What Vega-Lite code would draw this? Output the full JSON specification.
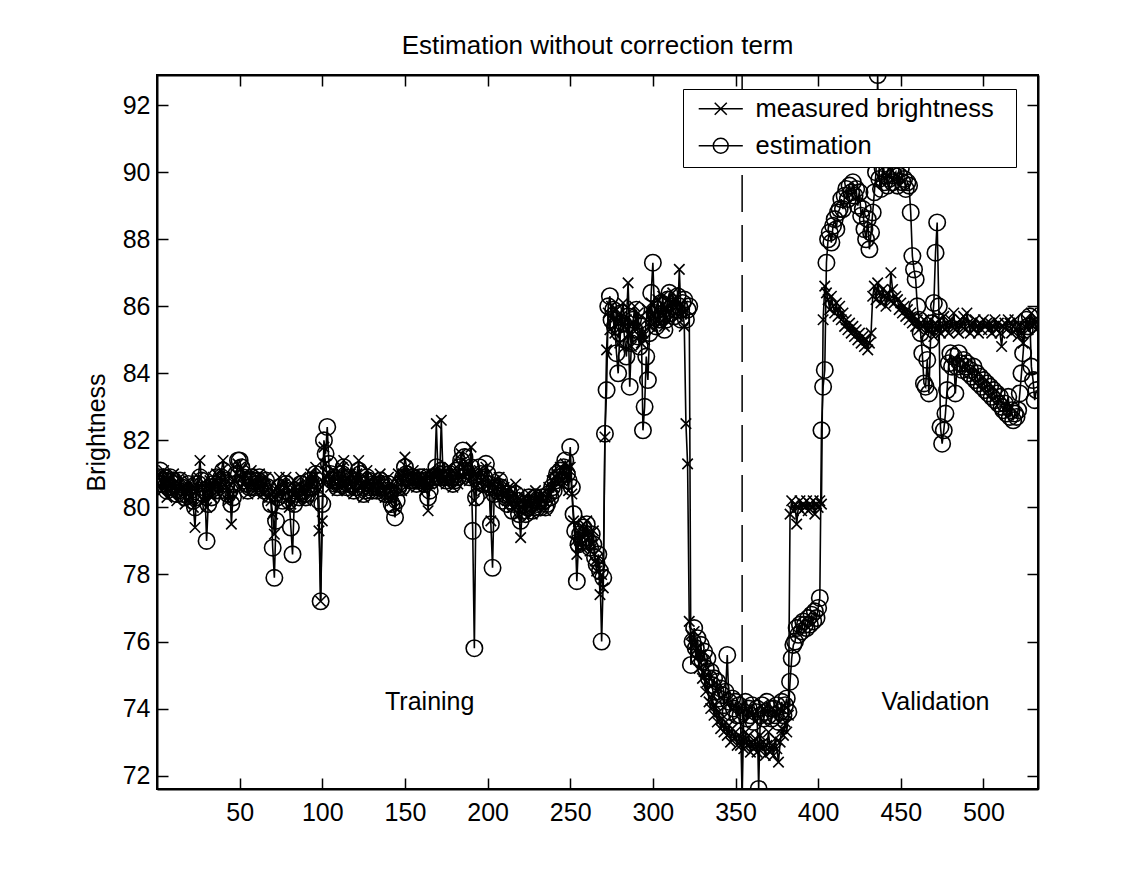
{
"$schema": "https://vega.github.io/schema/vega-lite/v6.json",
"width": 881, "height": 714,
"autosize": "none",
"padding": {"left": 157, "top": 75, "right": 106, "bottom": 92},
"background": "white",
"config": {"font": "Liberation Sans", "view": {"stroke": "black", "strokeWidth": 2}},
"title": {"text": "Estimation without correction term", "fontSize": 26, "fontWeight": "normal", "color": "black", "offset": 14, "anchor": "middle"},
"data": {"values": [
{"i":1,"m":81.0,"e":80.9},{"i":2,"m":80.8,"e":81.1},{"i":3,"m":80.5,"e":80.7},{"i":4,"m":81.1,"e":80.9},{"i":5,"m":80.6,"e":80.8},{"i":6,"m":80.3,"e":80.5},{"i":7,"m":80.9,"e":80.6},{"i":8,"m":80.7,"e":80.9},{"i":9,"m":80.4,"e":80.6},{"i":10,"m":81.0,"e":80.8},
{"i":11,"m":80.6,"e":80.7},{"i":12,"m":80.2,"e":80.4},{"i":13,"m":80.7,"e":80.5},{"i":14,"m":80.9,"e":80.8},{"i":15,"m":80.4,"e":80.6},{"i":16,"m":80.6,"e":80.4},{"i":17,"m":80.1,"e":80.3},{"i":18,"m":80.5,"e":80.5},{"i":19,"m":80.8,"e":80.7},{"i":20,"m":80.3,"e":80.5},
{"i":21,"m":80.6,"e":80.4},{"i":22,"m":80.0,"e":80.2},{"i":23,"m":79.4,"e":80.0},{"i":24,"m":80.5,"e":80.3},{"i":25,"m":80.9,"e":80.7},{"i":26,"m":81.4,"e":80.9},{"i":27,"m":80.7,"e":80.8},{"i":28,"m":80.2,"e":80.4},{"i":29,"m":80.6,"e":80.5},{"i":30,"m":80.0,"e":79.0},
{"i":31,"m":80.5,"e":80.1},{"i":32,"m":80.8,"e":80.6},{"i":33,"m":80.3,"e":80.3},{"i":34,"m":80.9,"e":80.7},{"i":35,"m":80.6,"e":80.5},{"i":36,"m":81.0,"e":80.9},{"i":37,"m":80.4,"e":80.6},{"i":38,"m":80.7,"e":80.5},{"i":39,"m":81.1,"e":80.9},{"i":40,"m":81.4,"e":81.1},
{"i":41,"m":80.9,"e":80.8},{"i":42,"m":80.6,"e":80.7},{"i":43,"m":80.2,"e":80.4},{"i":44,"m":80.7,"e":80.5},{"i":45,"m":79.5,"e":80.1},{"i":46,"m":80.4,"e":80.3},{"i":47,"m":80.8,"e":80.7},{"i":48,"m":81.0,"e":81.0},{"i":49,"m":81.3,"e":81.4},{"i":50,"m":81.2,"e":81.4},
{"i":51,"m":80.9,"e":81.2},{"i":52,"m":80.7,"e":80.9},{"i":53,"m":81.0,"e":80.8},{"i":54,"m":80.6,"e":80.7},{"i":55,"m":80.4,"e":80.5},{"i":56,"m":80.8,"e":80.6},{"i":57,"m":81.1,"e":80.9},{"i":58,"m":80.7,"e":80.8},{"i":59,"m":80.5,"e":80.6},{"i":60,"m":80.9,"e":80.7},
{"i":61,"m":80.6,"e":80.8},{"i":62,"m":81.0,"e":80.9},{"i":63,"m":80.8,"e":80.7},{"i":64,"m":80.4,"e":80.6},{"i":65,"m":80.7,"e":80.5},{"i":66,"m":80.9,"e":80.8},{"i":67,"m":80.5,"e":80.6},{"i":68,"m":80.3,"e":80.4},{"i":69,"m":80.2,"e":80.1},{"i":70,"m":79.8,"e":78.8},
{"i":71,"m":79.2,"e":77.9},{"i":72,"m":80.4,"e":79.6},{"i":73,"m":80.6,"e":80.3},{"i":74,"m":80.9,"e":80.6},{"i":75,"m":80.5,"e":80.4},{"i":76,"m":80.3,"e":80.2},{"i":77,"m":80.7,"e":80.5},{"i":78,"m":80.9,"e":80.7},{"i":79,"m":80.6,"e":80.5},{"i":80,"m":80.0,"e":80.2},
{"i":81,"m":80.1,"e":79.4},{"i":82,"m":80.4,"e":78.6},{"i":83,"m":80.8,"e":80.1},{"i":84,"m":80.6,"e":80.5},{"i":85,"m":80.3,"e":80.4},{"i":86,"m":80.5,"e":80.3},{"i":87,"m":80.9,"e":80.7},{"i":88,"m":80.4,"e":80.5},{"i":89,"m":80.6,"e":80.4},{"i":90,"m":80.2,"e":80.3},
{"i":91,"m":80.5,"e":80.4},{"i":92,"m":80.8,"e":80.6},{"i":93,"m":81.0,"e":80.8},{"i":94,"m":80.7,"e":80.6},{"i":95,"m":80.9,"e":80.7},{"i":96,"m":81.2,"e":81.0},{"i":97,"m":80.6,"e":80.8},{"i":98,"m":79.3,"e":80.2},{"i":99,"m":77.2,"e":77.2},{"i":100,"m":79.6,"e":80.1},
{"i":101,"m":81.8,"e":82.0},{"i":102,"m":81.3,"e":81.6},{"i":103,"m":80.9,"e":82.4},{"i":104,"m":81.0,"e":81.3},{"i":105,"m":80.6,"e":81.0},{"i":106,"m":80.8,"e":80.8},{"i":107,"m":81.1,"e":80.9},{"i":108,"m":80.7,"e":80.7},{"i":109,"m":80.5,"e":80.6},{"i":110,"m":80.9,"e":80.8},
{"i":111,"m":80.6,"e":80.7},{"i":112,"m":81.2,"e":81.0},{"i":113,"m":81.4,"e":81.2},{"i":114,"m":80.8,"e":80.9},{"i":115,"m":80.5,"e":80.6},{"i":116,"m":80.7,"e":80.7},{"i":117,"m":81.0,"e":80.8},{"i":118,"m":80.6,"e":80.7},{"i":119,"m":80.4,"e":80.5},{"i":120,"m":80.8,"e":80.6},
{"i":121,"m":81.0,"e":80.8},{"i":122,"m":81.4,"e":81.1},{"i":123,"m":80.9,"e":81.0},{"i":124,"m":80.6,"e":80.7},{"i":125,"m":80.3,"e":80.4},{"i":126,"m":80.7,"e":80.5},{"i":127,"m":81.1,"e":80.9},{"i":128,"m":80.8,"e":80.8},{"i":129,"m":80.5,"e":80.6},{"i":130,"m":80.6,"e":80.5},
{"i":131,"m":80.9,"e":80.7},{"i":132,"m":80.6,"e":80.6},{"i":133,"m":80.4,"e":80.5},{"i":134,"m":80.8,"e":80.6},{"i":135,"m":81.0,"e":80.8},{"i":136,"m":80.7,"e":80.7},{"i":137,"m":80.5,"e":80.6},{"i":138,"m":80.3,"e":80.4},{"i":139,"m":80.6,"e":80.5},{"i":140,"m":80.9,"e":80.7},
{"i":141,"m":80.5,"e":80.4},{"i":142,"m":80.2,"e":80.1},{"i":143,"m":80.4,"e":80.0},{"i":144,"m":80.0,"e":79.7},{"i":145,"m":80.6,"e":80.2},{"i":146,"m":81.0,"e":80.6},{"i":147,"m":80.8,"e":80.7},{"i":148,"m":80.5,"e":80.6},{"i":149,"m":81.0,"e":80.9},{"i":150,"m":81.5,"e":81.2},
{"i":151,"m":81.2,"e":81.0},{"i":152,"m":80.9,"e":80.9},{"i":153,"m":80.7,"e":80.8},{"i":154,"m":80.9,"e":80.8},{"i":155,"m":81.1,"e":80.9},{"i":156,"m":80.8,"e":80.8},{"i":157,"m":80.6,"e":80.7},{"i":158,"m":80.9,"e":80.8},{"i":159,"m":81.0,"e":80.9},{"i":160,"m":80.7,"e":80.8},
{"i":161,"m":80.8,"e":80.9},{"i":162,"m":80.5,"e":80.7},{"i":163,"m":80.9,"e":80.8},{"i":164,"m":79.9,"e":80.3},{"i":165,"m":80.7,"e":80.5},{"i":166,"m":81.0,"e":80.8},{"i":167,"m":80.8,"e":80.9},{"i":168,"m":81.0,"e":80.9},{"i":169,"m":82.5,"e":81.2},{"i":170,"m":81.0,"e":81.0},
{"i":171,"m":80.9,"e":80.9},{"i":172,"m":82.6,"e":81.1},{"i":173,"m":81.0,"e":81.0},{"i":174,"m":80.8,"e":80.9},{"i":175,"m":80.7,"e":80.8},{"i":176,"m":81.0,"e":80.9},{"i":177,"m":81.2,"e":81.0},{"i":178,"m":80.9,"e":80.9},{"i":179,"m":80.6,"e":80.7},{"i":180,"m":80.8,"e":80.8},
{"i":181,"m":81.0,"e":81.1},{"i":182,"m":80.7,"e":80.9},{"i":183,"m":81.3,"e":81.2},{"i":184,"m":81.6,"e":81.4},{"i":185,"m":81.2,"e":81.7},{"i":186,"m":80.9,"e":81.5},{"i":187,"m":81.0,"e":81.1},{"i":188,"m":81.3,"e":81.0},{"i":189,"m":80.8,"e":80.9},{"i":190,"m":81.8,"e":81.2},
{"i":191,"m":81.0,"e":79.3},{"i":192,"m":80.2,"e":75.8},{"i":193,"m":80.6,"e":80.3},{"i":194,"m":80.9,"e":80.8},{"i":195,"m":81.1,"e":81.2},{"i":196,"m":80.8,"e":81.0},{"i":197,"m":80.5,"e":80.7},{"i":198,"m":80.9,"e":80.9},{"i":199,"m":81.2,"e":81.3},{"i":200,"m":80.7,"e":81.0},
{"i":201,"m":80.4,"e":80.7},{"i":202,"m":79.6,"e":79.5},{"i":203,"m":80.5,"e":78.2},{"i":204,"m":80.8,"e":80.4},{"i":205,"m":80.6,"e":80.6},{"i":206,"m":80.3,"e":80.5},{"i":207,"m":80.9,"e":80.8},{"i":208,"m":80.7,"e":80.6},{"i":209,"m":80.4,"e":80.2},{"i":210,"m":80.6,"e":80.4},
{"i":211,"m":80.5,"e":80.3},{"i":212,"m":80.2,"e":80.1},{"i":213,"m":80.6,"e":80.4},{"i":214,"m":80.3,"e":80.2},{"i":215,"m":80.0,"e":79.9},{"i":216,"m":80.4,"e":80.1},{"i":217,"m":80.7,"e":80.4},{"i":218,"m":80.3,"e":80.2},{"i":219,"m":79.8,"e":79.8},{"i":220,"m":79.1,"e":79.6},
{"i":221,"m":80.0,"e":79.9},{"i":222,"m":80.3,"e":80.1},{"i":223,"m":79.9,"e":79.8},{"i":224,"m":80.2,"e":80.0},{"i":225,"m":80.4,"e":80.3},{"i":226,"m":80.1,"e":80.1},{"i":227,"m":79.8,"e":79.9},{"i":228,"m":80.2,"e":80.0},{"i":229,"m":80.5,"e":80.3},{"i":230,"m":80.0,"e":80.1},
{"i":231,"m":80.3,"e":80.2},{"i":232,"m":80.1,"e":80.0},{"i":233,"m":80.4,"e":80.3},{"i":234,"m":80.2,"e":80.2},{"i":235,"m":79.9,"e":80.0},{"i":236,"m":80.3,"e":80.1},{"i":237,"m":80.6,"e":80.4},{"i":238,"m":80.4,"e":80.3},{"i":239,"m":80.8,"e":80.6},{"i":240,"m":80.6,"e":80.5},
{"i":241,"m":80.9,"e":80.8},{"i":242,"m":81.0,"e":81.0},{"i":243,"m":80.7,"e":80.9},{"i":244,"m":81.2,"e":81.1},{"i":245,"m":80.8,"e":81.0},{"i":246,"m":81.1,"e":81.2},{"i":247,"m":81.3,"e":81.4},{"i":248,"m":80.9,"e":81.0},{"i":249,"m":80.5,"e":80.8},{"i":250,"m":81.2,"e":81.8},
{"i":251,"m":80.4,"e":80.6},{"i":252,"m":79.6,"e":79.8},{"i":253,"m":79.0,"e":79.3},{"i":254,"m":78.6,"e":77.8},{"i":255,"m":79.3,"e":78.9},{"i":256,"m":79.0,"e":79.2},{"i":257,"m":78.8,"e":79.0},{"i":258,"m":79.5,"e":79.4},{"i":259,"m":79.2,"e":79.1},{"i":260,"m":79.6,"e":79.5},
{"i":261,"m":79.1,"e":79.0},{"i":262,"m":78.7,"e":78.8},{"i":263,"m":78.9,"e":79.2},{"i":264,"m":79.3,"e":78.9},{"i":265,"m":78.4,"e":78.5},{"i":266,"m":78.1,"e":78.3},{"i":267,"m":78.5,"e":78.6},{"i":268,"m":77.4,"e":78.1},{"i":269,"m":78.0,"e":76.0},{"i":270,"m":77.6,"e":77.9},
{"i":271,"m":82.1,"e":82.2},{"i":272,"m":84.7,"e":83.5},{"i":273,"m":85.8,"e":86.0},{"i":274,"m":85.3,"e":86.3},{"i":275,"m":86.0,"e":85.6},{"i":276,"m":85.6,"e":85.9},{"i":277,"m":85.2,"e":85.4},{"i":278,"m":85.9,"e":84.6},{"i":279,"m":85.5,"e":84.0},{"i":280,"m":84.9,"e":85.2},
{"i":281,"m":85.7,"e":85.8},{"i":282,"m":86.1,"e":85.5},{"i":283,"m":85.4,"e":85.0},{"i":284,"m":85.6,"e":84.5},{"i":285,"m":86.7,"e":85.7},{"i":286,"m":85.2,"e":83.6},{"i":287,"m":84.8,"e":84.9},{"i":288,"m":85.5,"e":85.6},{"i":289,"m":86.0,"e":85.3},{"i":290,"m":85.3,"e":85.9},
{"i":291,"m":85.8,"e":85.1},{"i":292,"m":85.1,"e":84.8},{"i":293,"m":84.9,"e":85.4},{"i":294,"m":85.2,"e":82.3},{"i":295,"m":85.0,"e":83.0},{"i":296,"m":85.6,"e":84.5},{"i":297,"m":85.9,"e":83.8},{"i":298,"m":85.4,"e":85.2},{"i":299,"m":86.1,"e":86.4},{"i":300,"m":85.7,"e":87.3},
{"i":301,"m":85.3,"e":85.8},{"i":302,"m":85.9,"e":85.4},{"i":303,"m":86.2,"e":85.9},{"i":304,"m":85.5,"e":85.6},{"i":305,"m":85.8,"e":86.1},{"i":306,"m":86.3,"e":85.7},{"i":307,"m":85.4,"e":85.3},{"i":308,"m":85.9,"e":85.6},{"i":309,"m":86.2,"e":86.2},{"i":310,"m":85.6,"e":86.4},
{"i":311,"m":85.8,"e":85.8},{"i":312,"m":86.4,"e":86.0},{"i":313,"m":86.0,"e":85.7},{"i":314,"m":86.2,"e":85.9},{"i":315,"m":85.7,"e":86.3},{"i":316,"m":87.1,"e":86.0},{"i":317,"m":85.8,"e":85.6},{"i":318,"m":86.0,"e":86.1},{"i":319,"m":85.4,"e":86.2},{"i":320,"m":82.5,"e":85.6},
{"i":321,"m":81.3,"e":85.9},{"i":322,"m":76.6,"e":86.0},{"i":323,"m":76.2,"e":75.3},{"i":324,"m":75.9,"e":76.0},{"i":325,"m":76.3,"e":76.4},{"i":326,"m":75.5,"e":75.8},{"i":327,"m":75.8,"e":76.1},{"i":328,"m":75.2,"e":75.5},{"i":329,"m":75.6,"e":75.9},{"i":330,"m":74.9,"e":75.4},
{"i":331,"m":75.1,"e":75.7},{"i":332,"m":74.5,"e":75.2},{"i":333,"m":74.8,"e":75.5},{"i":334,"m":74.2,"e":74.9},{"i":335,"m":74.0,"e":75.1},{"i":336,"m":74.4,"e":74.7},{"i":337,"m":73.8,"e":74.9},{"i":338,"m":74.1,"e":74.5},{"i":339,"m":73.6,"e":74.8},{"i":340,"m":73.9,"e":74.3},
{"i":341,"m":73.4,"e":74.6},{"i":342,"m":73.7,"e":74.4},{"i":343,"m":73.3,"e":74.1},{"i":344,"m":73.6,"e":74.5},{"i":345,"m":73.2,"e":75.6},{"i":346,"m":73.5,"e":74.2},{"i":347,"m":73.0,"e":73.9},{"i":348,"m":73.4,"e":74.3},{"i":349,"m":73.1,"e":74.0},{"i":350,"m":73.3,"e":74.2},
{"i":351,"m":72.9,"e":73.8},{"i":352,"m":73.2,"e":74.1},{"i":353,"m":72.9,"e":73.8},{"i":354,"m":73.1,"e":71.3},{"i":355,"m":72.8,"e":73.9},{"i":356,"m":73.3,"e":74.2},{"i":357,"m":72.9,"e":73.7},{"i":358,"m":73.2,"e":74.0},{"i":359,"m":72.7,"e":73.8},{"i":360,"m":73.0,"e":74.1},
{"i":361,"m":72.8,"e":73.6},{"i":362,"m":73.1,"e":73.9},{"i":363,"m":72.7,"e":74.0},{"i":364,"m":72.9,"e":71.6},{"i":365,"m":73.2,"e":73.8},{"i":366,"m":72.8,"e":74.1},{"i":367,"m":73.0,"e":73.7},{"i":368,"m":72.6,"e":73.9},{"i":369,"m":72.9,"e":74.2},{"i":370,"m":73.3,"e":73.8},
{"i":371,"m":72.7,"e":74.0},{"i":372,"m":72.9,"e":73.7},{"i":373,"m":72.6,"e":74.0},{"i":374,"m":73.1,"e":73.8},{"i":375,"m":72.8,"e":74.1},{"i":376,"m":72.4,"e":73.6},{"i":377,"m":73.0,"e":73.9},{"i":378,"m":73.4,"e":74.2},{"i":379,"m":73.2,"e":73.8},{"i":380,"m":73.6,"e":74.1},
{"i":381,"m":73.3,"e":74.3},{"i":382,"m":73.8,"e":73.9},{"i":383,"m":79.8,"e":74.8},{"i":384,"m":80.2,"e":75.5},{"i":385,"m":79.9,"e":75.9},{"i":386,"m":80.1,"e":76.0},{"i":387,"m":79.5,"e":76.4},{"i":388,"m":80.0,"e":76.2},{"i":389,"m":80.2,"e":76.5},{"i":390,"m":79.9,"e":76.3},
{"i":391,"m":80.1,"e":76.6},{"i":392,"m":80.0,"e":76.5},{"i":393,"m":80.2,"e":76.4},{"i":394,"m":79.9,"e":76.7},{"i":395,"m":80.1,"e":76.5},{"i":396,"m":80.0,"e":76.8},{"i":397,"m":80.2,"e":76.6},{"i":398,"m":79.8,"e":76.9},{"i":399,"m":80.1,"e":76.7},{"i":400,"m":80.0,"e":77.0},
{"i":401,"m":80.2,"e":77.3},{"i":402,"m":80.1,"e":82.3},{"i":403,"m":85.6,"e":83.6},{"i":404,"m":86.6,"e":84.1},{"i":405,"m":86.4,"e":87.3},{"i":406,"m":86.2,"e":88.0},{"i":407,"m":85.9,"e":88.2},{"i":408,"m":86.3,"e":87.9},{"i":409,"m":86.0,"e":88.4},{"i":410,"m":85.8,"e":88.6},
{"i":411,"m":86.1,"e":88.3},{"i":412,"m":85.7,"e":88.8},{"i":413,"m":86.0,"e":88.9},{"i":414,"m":85.6,"e":89.2},{"i":415,"m":85.8,"e":88.9},{"i":416,"m":85.4,"e":89.3},{"i":417,"m":85.6,"e":89.5},{"i":418,"m":85.3,"e":89.2},{"i":419,"m":85.5,"e":89.6},{"i":420,"m":85.2,"e":89.4},
{"i":421,"m":85.4,"e":89.7},{"i":422,"m":85.1,"e":89.3},{"i":423,"m":85.3,"e":89.5},{"i":424,"m":85.0,"e":89.0},{"i":425,"m":85.2,"e":89.4},{"i":426,"m":84.9,"e":88.7},{"i":427,"m":85.1,"e":88.9},{"i":428,"m":84.8,"e":88.3},{"i":429,"m":85.0,"e":88.0},{"i":430,"m":84.7,"e":88.6},
{"i":431,"m":84.9,"e":87.7},{"i":432,"m":85.2,"e":88.2},{"i":433,"m":86.3,"e":88.8},{"i":434,"m":86.6,"e":89.4},{"i":435,"m":86.2,"e":90.0},{"i":436,"m":86.7,"e":92.9},{"i":437,"m":86.4,"e":89.8},{"i":438,"m":86.1,"e":89.5},{"i":439,"m":86.5,"e":90.1},{"i":440,"m":86.3,"e":89.7},
{"i":441,"m":86.0,"e":89.9},{"i":442,"m":86.4,"e":89.6},{"i":443,"m":86.2,"e":89.8},{"i":444,"m":87.0,"e":90.1},{"i":445,"m":86.5,"e":89.7},{"i":446,"m":86.1,"e":89.9},{"i":447,"m":86.3,"e":90.0},{"i":448,"m":86.2,"e":89.6},{"i":449,"m":85.9,"e":89.9},{"i":450,"m":86.1,"e":90.1},
{"i":451,"m":85.8,"e":89.7},{"i":452,"m":86.0,"e":89.8},{"i":453,"m":85.7,"e":89.5},{"i":454,"m":85.9,"e":89.7},{"i":455,"m":85.6,"e":89.6},{"i":456,"m":85.8,"e":88.8},{"i":457,"m":85.5,"e":87.5},{"i":458,"m":85.7,"e":87.1},{"i":459,"m":85.4,"e":86.8},{"i":460,"m":85.6,"e":86.0},
{"i":461,"m":85.3,"e":85.6},{"i":462,"m":85.5,"e":85.2},{"i":463,"m":85.4,"e":84.6},{"i":464,"m":85.6,"e":83.7},{"i":465,"m":85.2,"e":83.6},{"i":466,"m":85.5,"e":84.4},{"i":467,"m":85.3,"e":83.4},{"i":468,"m":85.6,"e":85.0},{"i":469,"m":85.4,"e":85.5},{"i":470,"m":85.1,"e":86.1},
{"i":471,"m":85.5,"e":87.6},{"i":472,"m":85.3,"e":88.5},{"i":473,"m":85.6,"e":86.0},{"i":474,"m":85.2,"e":82.4},{"i":475,"m":85.4,"e":81.9},{"i":476,"m":85.7,"e":82.3},{"i":477,"m":85.3,"e":82.8},{"i":478,"m":85.5,"e":83.5},{"i":479,"m":85.2,"e":84.3},{"i":480,"m":85.6,"e":84.6},
{"i":481,"m":85.4,"e":84.2},{"i":482,"m":85.8,"e":84.5},{"i":483,"m":85.3,"e":83.4},{"i":484,"m":85.5,"e":84.2},{"i":485,"m":85.2,"e":84.6},{"i":486,"m":85.6,"e":84.3},{"i":487,"m":85.4,"e":84.1},{"i":488,"m":85.7,"e":84.4},{"i":489,"m":85.3,"e":84.2},{"i":490,"m":85.8,"e":84.3},
{"i":491,"m":85.5,"e":84.0},{"i":492,"m":85.2,"e":84.1},{"i":493,"m":85.5,"e":83.9},{"i":494,"m":85.3,"e":84.2},{"i":495,"m":85.6,"e":83.8},{"i":496,"m":85.4,"e":84.0},{"i":497,"m":85.2,"e":83.7},{"i":498,"m":85.5,"e":83.9},{"i":499,"m":85.3,"e":83.6},{"i":500,"m":85.6,"e":83.8},
{"i":501,"m":85.4,"e":83.5},{"i":502,"m":85.5,"e":83.7},{"i":503,"m":85.3,"e":83.4},{"i":504,"m":85.5,"e":83.6},{"i":505,"m":85.2,"e":83.3},{"i":506,"m":85.4,"e":83.5},{"i":507,"m":85.6,"e":83.2},{"i":508,"m":85.3,"e":83.4},{"i":509,"m":85.5,"e":83.1},{"i":510,"m":85.2,"e":83.3},
{"i":511,"m":84.8,"e":83.0},{"i":512,"m":85.4,"e":82.9},{"i":513,"m":85.5,"e":83.1},{"i":514,"m":85.3,"e":82.8},{"i":515,"m":85.6,"e":83.3},{"i":516,"m":85.5,"e":82.7},{"i":517,"m":85.2,"e":82.9},{"i":518,"m":85.4,"e":82.6},{"i":519,"m":85.6,"e":82.8},{"i":520,"m":85.3,"e":82.7},
{"i":521,"m":85.1,"e":82.9},{"i":522,"m":85.4,"e":83.4},{"i":523,"m":85.2,"e":84.0},{"i":524,"m":84.9,"e":84.6},{"i":525,"m":85.4,"e":85.3},{"i":526,"m":85.6,"e":85.6},{"i":527,"m":85.3,"e":85.4},{"i":528,"m":85.5,"e":85.7},{"i":529,"m":85.8,"e":84.2},{"i":530,"m":85.4,"e":83.8},
{"i":531,"m":85.6,"e":83.2},{"i":532,"m":85.3,"e":83.5}
]},
"transform": [{"fold": ["m", "e"], "as": ["s", "v"]}],
"layer": [
{"mark": {"type": "line", "color": "black", "strokeWidth": 1.6, "clip": true},
 "encoding": {
  "x": {"field": "i", "type": "quantitative", "scale": {"domain": [0, 533], "nice": false, "zero": false},
        "axis": {"orient": "bottom", "values": [50,100,150,200,250,300,350,400,450,500], "title": null, "grid": false, "domainColor": "black", "domainWidth": 2, "tickColor": "black", "tickWidth": 1.5, "tickSize": -11, "labelFontSize": 25, "labelColor": "black", "labelPadding": 22, "labelFlush": false, "labelOverlap": false}},
  "y": {"field": "v", "type": "quantitative", "scale": {"domain": [71.6, 92.9], "nice": false, "zero": false},
        "axis": {"orient": "left", "values": [72,74,76,78,80,82,84,86,88,90,92], "title": "Brightness", "titleFontSize": 25, "titleFontWeight": "normal", "titleColor": "black", "titlePadding": 13, "grid": false, "domainColor": "black", "domainWidth": 2, "tickColor": "black", "tickWidth": 1.5, "tickSize": -11, "labelFontSize": 25, "labelColor": "black", "labelPadding": 18, "labelFlush": false, "labelOverlap": false}},
  "detail": {"field": "s"}
 }},
{"mark": {"type": "point", "filled": false, "color": "black", "strokeWidth": 1.6, "opacity": 1, "clip": true},
 "encoding": {
  "x": {"field": "i", "type": "quantitative", "axis": null},
  "y": {"field": "v", "type": "quantitative", "axis": null},
  "shape": {"field": "s", "type": "nominal", "scale": {"domain": ["m", "e"], "range": ["M-1,-1L1,1M-1,1L1,-1", "circle"]}, "legend": null},
  "size": {"field": "s", "type": "nominal", "scale": {"domain": ["m", "e"], "range": [110, 270]}, "legend": null}
 }},
{"mark": {"type": "point", "filled": false, "color": "black", "opacity": 0},
 "encoding": {
  "x": {"field": "i", "type": "quantitative",
        "axis": {"orient": "top", "values": [50,100,150,200,250,300,350,400,450,500], "labels": false, "title": null, "grid": false, "domainColor": "black", "domainWidth": 2, "tickColor": "black", "tickWidth": 1.5, "tickSize": -11}},
  "y": {"field": "v", "type": "quantitative",
        "axis": {"orient": "right", "values": [72,74,76,78,80,82,84,86,88,90,92], "labels": false, "title": null, "grid": false, "domainColor": "black", "domainWidth": 2, "tickColor": "black", "tickWidth": 1.5, "tickSize": -11}},
  "shape": {"field": "s", "type": "nominal",
            "scale": {"domain": ["m", "e"], "range": ["M-2.45,0H2.45M-0.67,-0.67L0.67,0.67M-0.67,0.67L0.67,-0.67", "M-2.45,0H2.45M-0.83,0A0.83,0.83 0 1,0 0.83,0A0.83,0.83 0 1,0 -0.83,0"]},
            "legend": {"orient": "none", "legendX": 526, "legendY": 14,
                       "title": ".", "titleOrient": "right", "titleColor": "white", "titleFontSize": 8, "titlePadding": 12,
                       "labelExpr": "datum.value == 'm' ? 'measured brightness' : 'estimation'",
                       "labelFontSize": 25.5, "labelColor": "black", "labelLimit": 0,
                       "symbolSize": 324, "symbolStrokeColor": "black", "symbolStrokeWidth": 1.5, "symbolFillColor": "transparent", "symbolOpacity": 1,
                       "strokeColor": "black", "fillColor": "white", "padding": 7, "rowPadding": 10, "symbolOffset": 18, "labelOffset": 22,
                       "encode": {"legend": {"update": {"strokeWidth": {"value": 2}}}}}}
 }},
{"data": {"values": [{}]},
 "mark": {"type": "rule", "strokeDash": [37, 13], "color": "black", "strokeWidth": 1.5},
 "encoding": {"x": {"datum": 354, "type": "quantitative", "axis": null}}},
{"data": {"values": [{}]},
 "mark": {"type": "text", "fontSize": 25, "color": "black", "align": "center", "baseline": "middle"},
 "encoding": {"x": {"datum": 165, "type": "quantitative", "axis": null}, "y": {"datum": 74.2, "type": "quantitative", "axis": null}, "text": {"value": "Training"}}},
{"data": {"values": [{}]},
 "mark": {"type": "text", "fontSize": 25, "color": "black", "align": "center", "baseline": "middle"},
 "encoding": {"x": {"datum": 471, "type": "quantitative", "axis": null}, "y": {"datum": 74.2, "type": "quantitative", "axis": null}, "text": {"value": "Validation"}}}
],
"resolve": {"scale": {"shape": "independent", "size": "independent"}, "axis": {"x": "independent", "y": "independent"}}
}
